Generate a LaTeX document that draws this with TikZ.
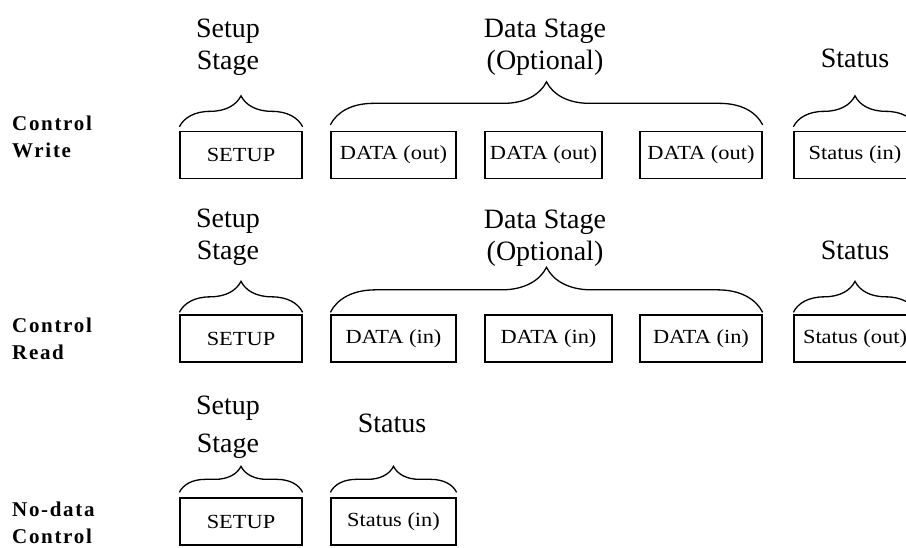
\documentclass[tikz,border=0pt]{standalone}
\usepackage{fontspec}
\setmainfont{Liberation Serif}
\newfontfamily\boxfont[FakeStretch=1.12]{Liberation Serif}
\newfontfamily\rowfont[LetterSpace=8]{Liberation Serif}
\usetikzlibrary{decorations.pathreplacing}
\tikzset{
  pkt/.style={draw, line width=1.3pt, minimum height=47pt, inner sep=0pt,
    font=\boxfont\fontsize{20}{20}\selectfont},
  grp/.style={decorate, decoration={brace, amplitude=#1}, line width=1.3pt},
  stage/.style={align=center, anchor=base, inner sep=0pt,
    font=\fontsize{28}{32}\selectfont},
  rowname/.style={align=left, anchor=base west, inner sep=0pt,
    font=\rowfont\bfseries\fontsize{21}{27}\selectfont},
}
\begin{document}
\begin{tikzpicture}[x=1pt, y=1pt]
  \clip (0,0) rectangle (906,548);
  % control write
  \node[rowname] (w-name) at (12,390) {Control\\Write};
  \node[pkt, minimum width=122pt] (w-setup) at (241,393) {SETUP};
  \foreach \n/\x/\w in {1/393.5/125, 2/543.5/117, 3/701/122} {
    \node[pkt, minimum width=\w pt] (w-data\n) at (\x,393) {DATA (out)};
  }
  \node[pkt, minimum width=122pt] (w-status) at (855,393) {Status (in)};
  \draw[grp=31pt] ([yshift=4pt]w-setup.north west) -- ([yshift=4pt]w-setup.north east);
  \draw[grp=43pt] ([yshift=6pt]w-data1.north west) -- ([yshift=6pt]w-data3.north east);
  \draw[grp=31pt] ([yshift=4pt]w-status.north west) -- ([yshift=4pt]w-status.north east);
  \node[stage] (w-setup-lbl) at (228,478) {Setup\\Stage};
  \node[stage] (w-data-lbl) at (545,478) {Data Stage\\(Optional)};
  \node[stage] (w-status-lbl) at (855,480) {Status};
  % control read
  \node[rowname] (r-name) at (12,188) {Control\\Read};
  \node[pkt, minimum width=122pt] (r-setup) at (241,209.5) {SETUP};
  \foreach \n/\x/\w in {1/393.5/125, 2/548.5/127, 3/701/122} {
    \node[pkt, minimum width=\w pt] (r-data\n) at (\x,209.5) {DATA (in)};
  }
  \node[pkt, minimum width=122pt] (r-status) at (855,209.5) {Status (out)};
  \draw[grp=31pt] ([yshift=2pt]r-setup.north west) -- ([yshift=2pt]r-setup.north east);
  \draw[grp=45pt] ([yshift=2pt]r-data1.north west) -- ([yshift=2pt]r-data3.north east);
  \draw[grp=31pt] ([yshift=2pt]r-status.north west) -- ([yshift=2pt]r-status.north east);
  \node[stage] (r-setup-lbl) at (228,288) {Setup\\Stage};
  \node[stage] (r-data-lbl) at (545,287) {Data Stage\\(Optional)};
  \node[stage] (r-status-lbl) at (855,288) {Status};
  % no-data control
  \node[rowname] (n-name) at (12,4) {No-data\\Control};
  \node[pkt, minimum width=122pt] (n-setup) at (241,26.5) {SETUP};
  \node[pkt, minimum width=125pt] (n-status) at (393.5,26.5) {Status (in)};
  \draw[grp=26pt] ([yshift=5pt]n-setup.north west) -- ([yshift=5pt]n-setup.north east);
  \draw[grp=26pt] ([yshift=5pt]n-status.north west) -- ([yshift=5pt]n-status.north east);
  \node[stage] (n-setup-lbl) at (228,95) {Setup\\[6pt]Stage};
  \node[stage] (n-status-lbl) at (392,115) {Status};
\end{tikzpicture}
\end{document}
